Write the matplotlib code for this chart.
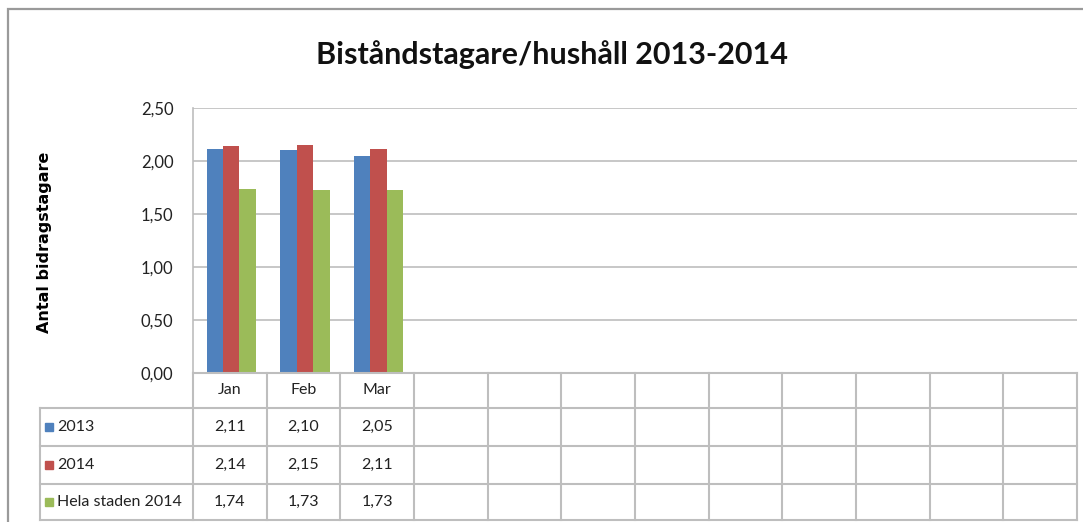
import matplotlib
matplotlib.use("Agg")
import matplotlib.pyplot as plt
from matplotlib.patches import Rectangle
from matplotlib.lines import Line2D
import numpy as np

months = ["Jan", "Feb", "Mar", "", "", "", "", "", "", "", "", ""]
series_names = ["2013", "2014", "Hela staden 2014"]
v2013 = [2.11, 2.10, 2.05]
v2014 = [2.14, 2.15, 2.11]
vhela = [1.74, 1.73, 1.73]
colors = ["#4F81BD", "#C0504D", "#9BBB59"]
yticks = [0.0, 0.5, 1.0, 1.5, 2.0, 2.5]

plt.rcParams['font.family'] = ['Lato', 'DejaVu Sans']

W, H = 1083, 522
fig = plt.figure(figsize=(W / 100, H / 100), dpi=100)

def fx(px):
    return px / W

def fy(py):
    return 1 - py / H

# outer chart border
fig.add_artist(Rectangle((fx(8), fy(600)), fx(1100) - fx(8), fy(9) - fy(600),
                         transform=fig.transFigure, fill=False,
                         edgecolor="#9a9a9a", lw=1.6, clip_on=False))

L, R, T, B = 193, 1077, 108, 373
ax = fig.add_axes([fx(L), fy(B), fx(R) - fx(L), fy(T) - fy(B)])

n = len(months)
x = np.arange(n)
bw = 0.222
all_vals = [v2013, v2014, vhela]
for i, (vals, c) in enumerate(zip(all_vals, colors)):
    xs = x[:len(vals)] + (i - 1) * bw + 0.02
    ax.bar(xs, vals, width=bw, color=c, edgecolor="none", zorder=3)

ax.set_xlim(-0.5, n - 0.5)
ax.set_ylim(0, 2.5)
ax.set_yticks(yticks)
ax.set_yticklabels([f"{t:.2f}".replace(".", ",") for t in yticks], fontsize=12, color="#222222")
ax.set_xticks([])
ax.tick_params(axis="y", length=0, pad=14)
ax.grid(axis="y", color="#bdbdbd", lw=1.2, zorder=0)
for s in ["top", "right", "bottom"]:
    ax.spines[s].set_visible(False)
ax.spines["left"].set_color("#bdbdbd")
ax.spines["left"].set_linewidth(1.2)

fig.text(fx(45), fy(242), "Antal bidragstagare", rotation=90, fontsize=11.5,
         fontweight="bold", family=["DejaVu Sans"], ha="center", va="center")

fig.text(fx(552), fy(55), "Biståndstagare/hushåll 2013-2014", fontsize=22,
         fontweight="bold", ha="center", va="center", color="#111111")

# data table
gc = "#bebebe"
rows_px = [373, 408, 446, 484, 520]
col_px = [L + (R - L) * i / n for i in range(n + 1)]
TL = 40
fig.add_artist(Line2D([fx(L), fx(R)], [fy(rows_px[0])] * 2, color=gc, lw=1.5))
for rp in rows_px[1:]:
    fig.add_artist(Line2D([fx(TL), fx(R)], [fy(rp)] * 2, color=gc, lw=1.5))
for i, cp in enumerate(col_px):
    fig.add_artist(Line2D([fx(cp)] * 2, [fy(rows_px[0]), fy(rows_px[-1])], color=gc, lw=1.5))
fig.add_artist(Line2D([fx(TL)] * 2, [fy(rows_px[1]), fy(rows_px[-1])], color=gc, lw=1.5))

for i, m in enumerate(months):
    cx = (col_px[i] + col_px[i + 1]) / 2
    fig.text(fx(cx), fy((rows_px[0] + rows_px[1]) / 2), m, fontsize=11.5,
             ha="center", va="center", color="#222222")

for r, (name, vals, c) in enumerate(zip(series_names, all_vals, colors)):
    cy = (rows_px[r + 1] + rows_px[r + 2]) / 2
    fig.add_artist(Rectangle((fx(45), fy(cy + 4)), fx(8), fy(cy - 4) - fy(cy + 4),
                             transform=fig.transFigure, color=c))
    fig.text(fx(57), fy(cy), name, fontsize=11.5, ha="left", va="center", color="#222222")
    for i, v in enumerate(vals):
        cx = (col_px[i] + col_px[i + 1]) / 2
        fig.text(fx(cx), fy(cy), f"{v:.2f}".replace(".", ","), fontsize=11.5,
                 ha="center", va="center", color="#222222")

fig.savefig("out.png", dpi=100)
